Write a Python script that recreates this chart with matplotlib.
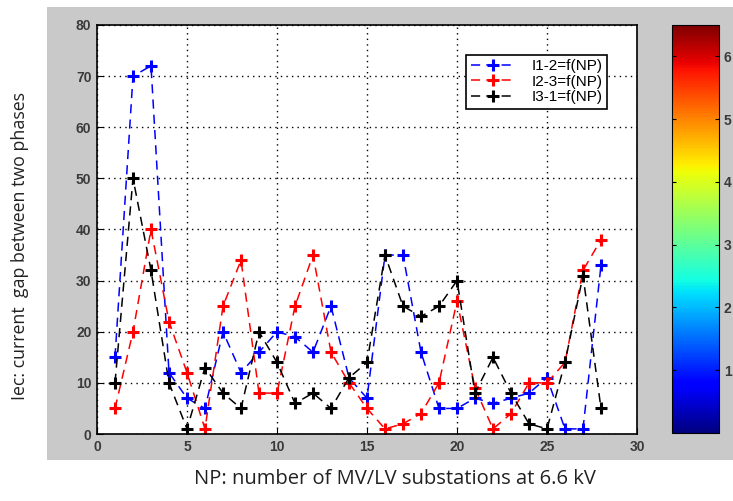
import matplotlib
matplotlib.use("Agg")
import matplotlib.pyplot as plt
import matplotlib.patches as mpatches
from matplotlib import cm, colors, colorbar

# values
NP = list(range(1, 29))
i12 = [15, 70, 72, 12, 7, 5, 20, 12, 16, 20, 19, 16, 25, 11, 7, 35, 35, 16, 5, 5,
       7, 6, 7, 8, 11, 1, 1, 33]
i23 = [5, 20, 40, 22, 12, 1, 25, 34, 8, 8, 25, 35, 16, 10, 5, 1, 2, 4, 10, 26,
       9, 1, 4, 10, 10, 14, 32, 38]
i31 = [10, 50, 32, 10, 1, 13, 8, 5, 20, 14, 6, 8, 5, 11, 14, 35, 25, 23, 25, 30,
       8, 15, 8, 2, 1, 14, 31, 5]
labels = ["I1-2=f(NP)", "I2-3=f(NP)", "I3-1=f(NP)"]
cb_ticks = [1, 2, 3, 4, 5, 6]

W, H = 733, 501
fig = plt.figure(figsize=(W / 100, H / 100), dpi=100)
fig.patch.set_facecolor("white")

# grey matlab figure panel, behind everything
fig.patches.append(mpatches.Rectangle((47 / W, (H - 460) / H), 1 - 47 / W, 453 / H,
                                      transform=fig.transFigure, facecolor="#c9c9c9",
                                      edgecolor="none", zorder=-10))

ax = fig.add_axes([97 / W, (H - 434) / H, 540 / W, 409 / H])
ax.set_facecolor("white")
style = dict(ls=(0, (6, 4)), lw=1.1, marker="+", ms=9, mew=2.2)
ax.plot(NP, i12, color="blue", label=labels[0], **style)
ax.plot(NP, i23, color="red", label=labels[1], **style)
ax.plot(NP, i31, color="black", label=labels[2], **style)

ax.set_xlim(0, 30)
ax.set_ylim(0, 80)
ax.set_xticks(range(0, 31, 5))
ax.set_yticks(range(0, 81, 10))
ax.grid(True, ls=(0, (1, 3)), color="black", lw=1)
ax.tick_params(direction="in", length=4, labelsize=10, labelcolor="#3a3a3a", pad=4)
for lab in ax.get_xticklabels() + ax.get_yticklabels():
    lab.set_fontweight("bold")
    lab.set_family("Liberation Sans")
for s in ax.spines.values():
    s.set_linewidth(1.2)

leg = ax.legend(loc="upper right", bbox_to_anchor=(0.959, 0.946), fancybox=False,
                edgecolor="black", framealpha=1, borderpad=0.3, labelspacing=0.1,
                handlelength=3.0, handletextpad=1.0,
                prop={"family": "Liberation Sans", "size": 11})
leg.get_frame().set_linewidth(1.2)

cax = fig.add_axes([672 / W, (H - 433) / H, 47 / W, 408 / H])
cb = colorbar.ColorbarBase(cax, cmap=cm.jet, norm=colors.Normalize(0, 6.5),
                           orientation="vertical", ticks=cb_ticks)
cax.tick_params(direction="in", length=3, labelsize=10, labelcolor="#3a3a3a", left=True)
for lab in cax.get_yticklabels():
    lab.set_fontweight("bold")
    lab.set_family("Liberation Sans")

fig.text(395 / W, (H - 479) / H, "NP: number of MV/LV substations at 6.6 kV",
         ha="center", va="center", fontsize=14.5, family="Open Sans", color="#222222")
fig.text(20 / W, (H - 246) / H, "Iec: current  gap between two phases", rotation=90,
         ha="center", va="center", fontsize=12.8, family="Open Sans", color="#222222")

fig.savefig("out.png", dpi=100)
